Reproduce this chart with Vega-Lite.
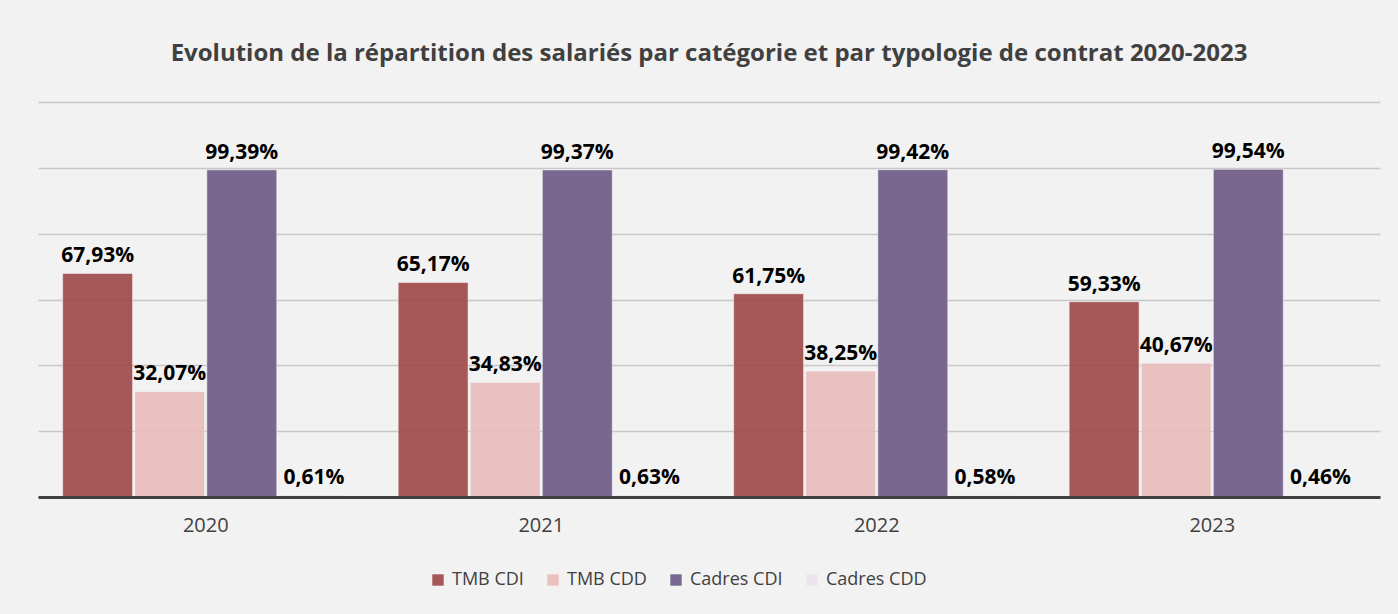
{
  "$schema": "https://vega.github.io/schema/vega-lite/v6.json",
  "width": 1342,
  "height": 395,
  "autosize": {"type": "none"},
  "padding": {"left": 38, "top": 102, "right": 18, "bottom": 117},
  "background": "#F2F2F2",
  "title": {
    "text": "Evolution de la répartition des salariés par catégorie et par typologie de contrat 2020-2023",
    "font": "Open Sans",
    "fontSize": 24,
    "fontWeight": "bold",
    "color": "#404040",
    "anchor": "middle",
    "offset": 36
  },
  "config": {
    "view": {"stroke": null},
    "font": "Open Sans"
  },
  "data": {
    "values": [
      {"annee": "2020", "serie": "TMB CDI", "valeur": 67.93, "label": "67,93%"},
      {"annee": "2020", "serie": "TMB CDD", "valeur": 32.07, "label": "32,07%"},
      {"annee": "2020", "serie": "Cadres CDI", "valeur": 99.39, "label": "99,39%"},
      {"annee": "2020", "serie": "Cadres CDD", "valeur": 0.61, "label": "0,61%"},
      {"annee": "2021", "serie": "TMB CDI", "valeur": 65.17, "label": "65,17%"},
      {"annee": "2021", "serie": "TMB CDD", "valeur": 34.83, "label": "34,83%"},
      {"annee": "2021", "serie": "Cadres CDI", "valeur": 99.37, "label": "99,37%"},
      {"annee": "2021", "serie": "Cadres CDD", "valeur": 0.63, "label": "0,63%"},
      {"annee": "2022", "serie": "TMB CDI", "valeur": 61.75, "label": "61,75%"},
      {"annee": "2022", "serie": "TMB CDD", "valeur": 38.25, "label": "38,25%"},
      {"annee": "2022", "serie": "Cadres CDI", "valeur": 99.42, "label": "99,42%"},
      {"annee": "2022", "serie": "Cadres CDD", "valeur": 0.58, "label": "0,58%"},
      {"annee": "2023", "serie": "TMB CDI", "valeur": 59.33, "label": "59,33%"},
      {"annee": "2023", "serie": "TMB CDD", "valeur": 40.67, "label": "40,67%"},
      {"annee": "2023", "serie": "Cadres CDI", "valeur": 99.54, "label": "99,54%"},
      {"annee": "2023", "serie": "Cadres CDD", "valeur": 0.46, "label": "0,46%"}
    ]
  },
  "encoding": {
    "x": {
      "field": "annee",
      "type": "nominal",
      "scale": {"paddingInner": 0.147, "paddingOuter": 0.0735},
      "axis": {
        "title": null,
        "labelAngle": 0,
        "labelFontSize": 20,
        "labelColor": "#404040",
        "labelPadding": 18,
        "ticks": false,
        "domainColor": "#404040",
        "domainWidth": 3,
        "zindex": 1
      }
    },
    "xOffset": {
      "field": "serie",
      "type": "nominal",
      "sort": ["TMB CDI", "TMB CDD", "Cadres CDI", "Cadres CDD"],
      "scale": {"paddingInner": 0.03, "paddingOuter": 0}
    },
    "y": {
      "field": "valeur",
      "type": "quantitative",
      "scale": {"domain": [0, 120], "nice": false},
      "axis": {
        "title": null,
        "labels": false,
        "ticks": false,
        "domain": false,
        "values": [0, 20, 40, 60, 80, 100, 120],
        "gridColor": "#C8C8C8",
        "gridWidth": 1.5
      }
    }
  },
  "layer": [
    {
      "mark": {"type": "bar", "opacity": 0.92, "stroke": "#FFFFFF", "strokeOpacity": 0.5, "strokeWidth": 1},
      "encoding": {
        "color": {
          "field": "serie",
          "type": "nominal",
          "sort": ["TMB CDI", "TMB CDD", "Cadres CDI", "Cadres CDD"],
          "scale": {
            "domain": ["TMB CDI", "TMB CDD", "Cadres CDI", "Cadres CDD"],
            "range": ["#A04A4A", "#E9BDBD", "#6F5C87", "#EAE3EE"]
          },
          "legend": {
            "title": null,
            "orient": "none",
            "legendX": 391,
            "legendY": 469,
            "direction": "horizontal",
            "symbolType": "square",
            "symbolSize": 130,
            "symbolStrokeWidth": 0,
            "symbolOpacity": 0.92,
            "labelFontSize": 18,
            "labelColor": "#404040",
            "columnPadding": 20,
            "labelOffset": 5
          }
        }
      }
    },
    {
      "mark": {
        "type": "text",
        "baseline": "bottom",
        "dy": -7,
        "fontSize": 21,
        "fontWeight": "bold",
        "color": "#000000"
      },
      "encoding": {
        "text": {"field": "label", "type": "nominal"}
      }
    }
  ]
}
